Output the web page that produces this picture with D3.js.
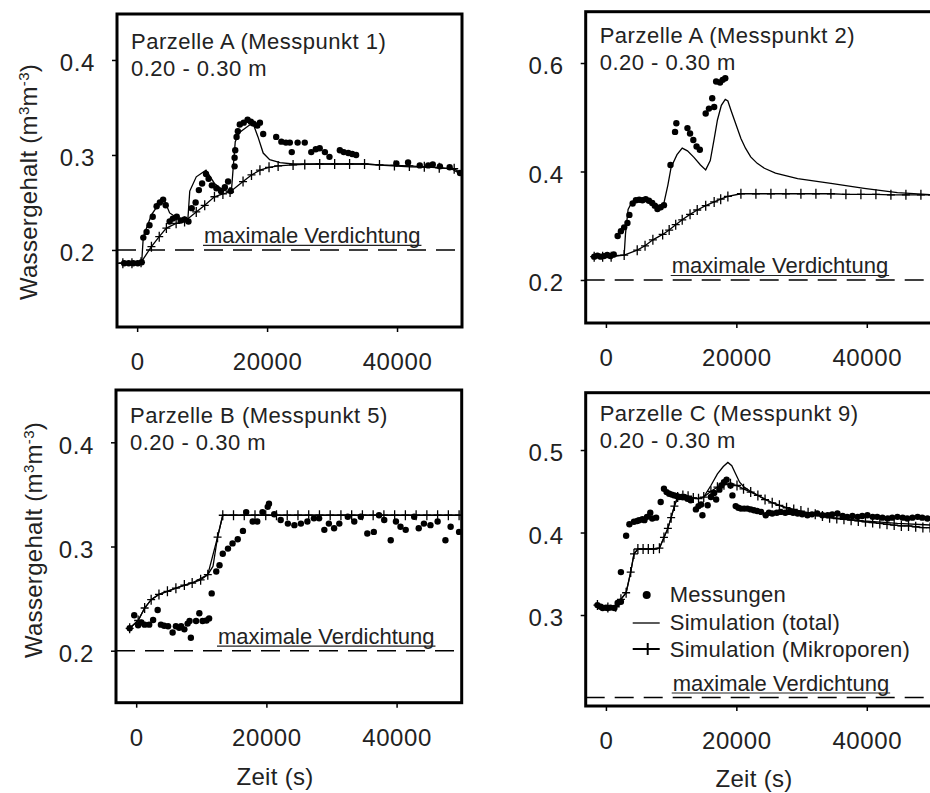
<!DOCTYPE html>
<html>
<head>
<meta charset="utf-8">
<script src="https://cdn.jsdelivr.net/npm/d3@7"></script>
<style>
  body { margin: 0; background: #fff; }
  svg { display: block; }
  text { font-family: Arial, "Liberation Sans", sans-serif; fill: #222; }
  .frame { fill: none; stroke: #000; stroke-width: 3px; }
  .axis path.domain { display: none; }
  .axis .tick line { stroke: #000; stroke-width: 1.5px; }
  .axis .tick text { font-size: 24px; fill: #222; letter-spacing: 0.6px; }
  .sim { fill: none; stroke: #000; stroke-width: 1.3px; }
  .plus { fill: none; stroke: #000; stroke-width: 1.3px; }
  .meas { fill: #000; }
  .maxline { stroke: #000; stroke-width: 1.5px; stroke-dasharray: 19 10; }
  .title { font-size: 22px; letter-spacing: 0.5px; }
  .maxtext { font-size: 22px; }
  .axtitle { font-size: 24px; letter-spacing: 0.3px; }
  .legend text { font-size: 22px; letter-spacing: 0.3px; }
</style>
</head>
<body>
<svg id="chart" width="930" height="793"></svg>
<script>
// time axis ticks (s)
var xTicks = [0, 20000, 40000];
var maxDensity = 0.2;

// ---- Parzelle A (Messpunkt 1) ----
var p1Meas = [[-2000,0.186],[-1300,0.186],[-600,0.186],[100,0.186],[700,0.187],[950,0.213],[1450,0.219],[1900,0.226],[2400,0.235],[3000,0.246],[3500,0.250],[4000,0.253],[4400,0.247],[5000,0.230],[5500,0.233],[6100,0.235],[6700,0.231],[7300,0.232],[7900,0.230],[8400,0.244],[9000,0.250],[9500,0.263],[10000,0.270],[10600,0.280],[11000,0.275],[11500,0.268],[12200,0.265],[12900,0.262],[13500,0.266],[14000,0.272],[14400,0.262],[15000,0.288],[15000,0.297],[15100,0.305],[15300,0.319],[15500,0.325],[15800,0.332],[16400,0.334],[17000,0.337],[17500,0.335],[17900,0.333],[18500,0.331],[18900,0.334],[19400,0.322],[21400,0.319],[22200,0.314],[22900,0.313],[23500,0.313],[23800,0.303],[24700,0.313],[25800,0.313],[26800,0.303],[27500,0.306],[28100,0.307],[28900,0.303],[29600,0.298],[31200,0.305],[31800,0.303],[32500,0.302],[33100,0.301],[33700,0.300],[39900,0.291],[41700,0.292],[43500,0.289],[44800,0.289],[45500,0.290],[46600,0.288],[48100,0.287],[49700,0.281]];
var p1Total = [[-3100,0.186],[700,0.187],[950,0.214],[2200,0.237],[3700,0.252],[4100,0.254],[5000,0.239],[6300,0.233],[7800,0.2315],[8100,0.262],[9100,0.277],[10600,0.284],[11900,0.270],[13200,0.263],[14500,0.261],[14800,0.288],[15100,0.314],[15800,0.324],[17300,0.3315],[17900,0.332],[18600,0.319],[19400,0.302],[20400,0.295],[22000,0.292],[24000,0.2905],[30000,0.2905],[35000,0.2905],[38000,0.289],[42000,0.2875],[46000,0.287],[48500,0.285],[50000,0.279]];
var p1Micro = [[-2200,0.186],[-800,0.186],[600,0.187],[2200,0.2035],[3400,0.214],[4500,0.223],[6000,0.228],[7300,0.230],[9100,0.240],[10400,0.247],[11900,0.256],[13200,0.259],[14300,0.261],[16300,0.272],[17600,0.279],[18900,0.284],[20300,0.287],[21700,0.2885],[24000,0.2895],[25800,0.290],[28100,0.2905],[30400,0.2905],[32700,0.2905],[35000,0.2905],[37300,0.2895],[39600,0.289],[41900,0.2885],[44200,0.2875],[46500,0.2865],[48800,0.2855],[50000,0.280]];

// ---- Parzelle A (Messpunkt 2) ----
var p2Meas = [[-1800,0.243],[-1300,0.245],[-800,0.243],[-300,0.244],[200,0.246],[700,0.244],[1200,0.247],[1800,0.281],[2300,0.290],[2800,0.297],[3300,0.305],[3600,0.320],[4100,0.341],[4600,0.347],[5100,0.348],[5600,0.347],[6100,0.349],[6600,0.346],[7100,0.342],[7500,0.337],[7900,0.331],[8400,0.334],[8900,0.338],[9900,0.412],[10600,0.473],[10800,0.489],[12500,0.480],[12900,0.470],[13400,0.458],[13900,0.446],[14400,0.440],[15300,0.507],[15800,0.516],[16300,0.535],[16600,0.519],[16900,0.566],[17500,0.564],[17900,0.569],[18300,0.572]];
var p2Total = [[-1800,0.243],[2800,0.246],[3000,0.285],[3400,0.330],[4000,0.344],[5500,0.346],[7000,0.344],[8300,0.336],[8900,0.342],[9500,0.375],[10000,0.408],[10900,0.431],[11700,0.443],[12500,0.438],[13500,0.426],[14500,0.412],[15300,0.403],[16000,0.420],[16600,0.460],[17100,0.495],[17700,0.522],[18300,0.533],[18700,0.530],[19200,0.512],[19700,0.495],[20700,0.461],[21400,0.443],[22200,0.427],[23200,0.415],[24300,0.406],[26000,0.397],[29400,0.387],[34500,0.378],[39600,0.369],[44700,0.361],[50000,0.357]];
var p2Micro = [[-1800,0.243],[-500,0.243],[800,0.243],[2800,0.246],[4800,0.255],[6000,0.263],[7200,0.274],[8700,0.284],[9700,0.292],[10700,0.302],[11700,0.311],[12900,0.321],[14000,0.329],[15300,0.337],[16600,0.344],[17600,0.349],[18700,0.354],[20700,0.359],[23000,0.359],[25300,0.359],[27600,0.359],[29900,0.359],[32200,0.359],[34500,0.359],[36800,0.358],[39100,0.358],[41400,0.358],[43700,0.357],[46000,0.357],[48300,0.357],[50000,0.357]];

// ---- Parzelle B (Messpunkt 5) ----
var p3Meas = [[-1000,0.2215],[-300,0.234],[300,0.2245],[800,0.227],[1300,0.225],[2000,0.225],[2600,0.2295],[3300,0.239],[3800,0.225],[4300,0.224],[4900,0.2235],[5600,0.2175],[6100,0.2235],[6600,0.222],[6900,0.2235],[7400,0.2205],[7900,0.226],[8200,0.2285],[8400,0.2125],[9200,0.2285],[9700,0.236],[10200,0.2285],[10800,0.229],[11200,0.231],[11600,0.255],[12300,0.276],[12800,0.282],[13300,0.293],[14100,0.298],[14800,0.303],[15600,0.307],[16400,0.315],[16900,0.333],[17900,0.324],[18600,0.324],[19400,0.333],[20200,0.338],[20400,0.341],[21200,0.331],[22200,0.3255],[23300,0.322],[24300,0.3205],[25300,0.322],[26300,0.324],[27300,0.327],[28100,0.327],[28900,0.316],[29600,0.322],[30400,0.3175],[31200,0.322],[32500,0.3285],[33500,0.324],[34500,0.3285],[35500,0.3125],[36500,0.314],[37300,0.330],[38100,0.3255],[39100,0.306],[39900,0.324],[40600,0.319],[41400,0.316],[42700,0.3285],[43400,0.3175],[44200,0.322],[45200,0.3205],[46300,0.324],[47500,0.306],[48300,0.319],[49600,0.314]];
var p3Total = [[-1000,0.2215],[300,0.229],[1300,0.241],[2300,0.249],[3500,0.254],[6100,0.260],[8600,0.265],[11000,0.273],[11800,0.281],[12500,0.309],[13300,0.330],[50000,0.330]];
var p3Micro = [[-1000,0.2215],[300,0.229],[1300,0.241],[2300,0.249],[3500,0.254],[4800,0.257],[6100,0.260],[7400,0.263],[8600,0.265],[9900,0.268],[11000,0.273],[12500,0.309],[13300,0.330],[14950,0.330],[16600,0.330],[18250,0.330],[19900,0.330],[21550,0.330],[23200,0.330],[24850,0.330],[26500,0.330],[28150,0.330],[29800,0.330],[31450,0.330],[33100,0.330],[34750,0.330],[36400,0.330],[38050,0.330],[39700,0.330],[41350,0.330],[43000,0.330],[44650,0.330],[46300,0.330],[47950,0.330],[49600,0.330]];

// ---- Parzelle C (Messpunkt 9) ----
var p4Meas = [[-1300,0.312],[-800,0.310],[-500,0.3085],[0,0.309],[250,0.3085],[700,0.309],[1300,0.3085],[1800,0.3145],[2300,0.316],[2300,0.352],[3100,0.396],[3600,0.410],[4300,0.413],[4800,0.414],[5100,0.415],[5600,0.416],[5900,0.415],[6300,0.419],[6800,0.424],[7100,0.417],[7700,0.418],[8400,0.437],[8900,0.453],[9300,0.449],[9700,0.447],[10100,0.446],[10500,0.445],[10900,0.444],[11200,0.443],[11600,0.443],[12000,0.443],[12500,0.441],[13000,0.439],[13800,0.428],[14200,0.432],[14600,0.434],[14800,0.421],[15600,0.433],[16100,0.443],[16600,0.448],[16900,0.440],[17400,0.452],[17700,0.457],[18100,0.461],[18500,0.464],[19100,0.457],[19400,0.445],[19900,0.432],[20300,0.430],[20700,0.429],[21200,0.429],[21700,0.429],[22200,0.428],[22700,0.427],[23200,0.426],[23800,0.425],[24500,0.421],[25000,0.424],[25500,0.423],[26200,0.424],[26800,0.425],[27500,0.424],[28100,0.425],[28700,0.424],[29400,0.423],[30100,0.422],[30900,0.421],[31600,0.422],[32400,0.423],[33200,0.421],[34000,0.421],[34700,0.422],[35500,0.423],[36300,0.420],[37000,0.419],[37800,0.420],[38600,0.419],[39300,0.420],[40100,0.421],[40900,0.419],[41600,0.419],[42400,0.418],[43200,0.417],[43900,0.418],[44700,0.419],[45500,0.418],[46200,0.417],[47000,0.418],[47800,0.419],[48500,0.418],[49300,0.417]];
var p4Total = [[-1300,0.312],[300,0.309],[1500,0.310],[2300,0.319],[3100,0.327],[3800,0.352],[4300,0.374],[4900,0.380],[6100,0.380],[7300,0.380],[8200,0.381],[8900,0.394],[9500,0.405],[10000,0.418],[10500,0.432],[11000,0.443],[11800,0.445],[13000,0.443],[14000,0.441],[15000,0.443],[16100,0.457],[17100,0.471],[18000,0.480],[18700,0.485],[19300,0.481],[19900,0.471],[20500,0.461],[21200,0.455],[22000,0.451],[23300,0.445],[25300,0.437],[27300,0.431],[29400,0.426],[34500,0.418],[39600,0.414],[44700,0.411],[50000,0.409]];
var p4Micro = [[-1300,0.312],[300,0.309],[1500,0.310],[2300,0.319],[3100,0.327],[3800,0.352],[4300,0.374],[4900,0.380],[5700,0.380],[6500,0.380],[7300,0.380],[8200,0.381],[8900,0.394],[9500,0.405],[10000,0.418],[10500,0.432],[11000,0.443],[11800,0.445],[12600,0.444],[13400,0.442],[14200,0.441],[15000,0.443],[16100,0.450],[17100,0.455],[18100,0.458],[19100,0.459],[20100,0.457],[21100,0.453],[22200,0.449],[23300,0.445],[24400,0.440],[25500,0.436],[26600,0.433],[27700,0.430],[28800,0.428],[29900,0.426],[31000,0.424],[32100,0.422],[33200,0.420],[34300,0.418],[35400,0.417],[36500,0.416],[37600,0.415],[38700,0.414],[39800,0.413],[40900,0.412],[42000,0.411],[43100,0.410],[44200,0.409],[45300,0.408],[46400,0.408],[47500,0.407],[48600,0.406],[49700,0.406]];

var legendLabels = ["Messungen", "Simulation (total)", "Simulation (Mikroporen)"];

var panels = [
  {title: "Parzelle A (Messpunkt 1)", depth: "0.20 - 0.30 m", left: 117, right: 462, top: 14, bottom: 327,
   yDomain: [0.1189, 0.4484], yTicks: [0.2, 0.3, 0.4], meas: p1Meas, total: p1Total, micro: p1Micro,
   titleDy: 35, maxDx: 87, yLabel: {x: 37, y: 182}},
  {title: "Parzelle A (Messpunkt 2)", depth: "0.20 - 0.30 m", left: 585.7, right: 932, top: 11.7, bottom: 323,
   yDomain: [0.1207, 0.6946], yTicks: [0.2, 0.4, 0.6], meas: p2Meas, total: p2Total, micro: p2Micro,
   titleDy: 31, maxDx: 86},
  {title: "Parzelle B (Messpunkt 5)", depth: "0.20 - 0.30 m", left: 116, right: 461.7, top: 390, bottom: 702.7,
   yDomain: [0.1501, 0.4502], yTicks: [0.2, 0.3, 0.4], meas: p3Meas, total: p3Total, micro: p3Micro,
   titleDy: 33, maxDx: 102, yLabel: {x: 42, y: 540}, xLabel: {x: 275, y: 785}},
  {title: "Parzelle C (Messpunkt 9)", depth: "0.20 - 0.30 m", left: 585.7, right: 932, top: 392.7, bottom: 706,
   yDomain: [0.1897, 0.5695], yTicks: [0.3, 0.4, 0.5], meas: p4Meas, total: p4Total, micro: p4Micro,
   titleDy: 28, maxDx: 87, xLabel: {x: 754, y: 787}, legend: true}
];

var svg = d3.select("#chart");

panels.forEach(function(p, i) {
  var x = d3.scaleLinear().domain([-3100, 50000]).range([p.left, p.right]);
  var y = d3.scaleLinear().domain(p.yDomain).range([p.bottom, p.top]);
  var g = svg.append("g");

  var clipId = "clip" + i;
  svg.append("clipPath").attr("id", clipId).append("rect")
    .attr("x", p.left).attr("y", p.top)
    .attr("width", p.right - p.left).attr("height", p.bottom - p.top);

  g.append("g").attr("class", "axis")
    .attr("transform", "translate(" + p.left + ",0)")
    .call(d3.axisLeft(y).tickValues(p.yTicks).tickFormat(d3.format(".1f"))
      .tickSizeInner(5).tickSizeOuter(0).tickPadding(17))
    .selectAll("text").attr("dy", "0.45em");

  g.append("g").attr("class", "axis")
    .attr("transform", "translate(0," + p.bottom + ")")
    .call(d3.axisBottom(x).tickValues(xTicks).tickFormat(d3.format("d"))
      .tickSizeInner(5).tickSizeOuter(0).tickPadding(21));

  var plot = g.append("g").attr("clip-path", "url(#" + clipId + ")");

  // maximale Verdichtung
  var yMax = y(maxDensity);
  plot.append("line").attr("class", "maxline")
    .attr("x1", p.left).attr("x2", p.right).attr("y1", yMax).attr("y2", yMax);
  var mt = plot.append("text").attr("class", "maxtext")
    .attr("x", p.left + p.maxDx).attr("y", yMax - 7)
    .text("maximale Verdichtung");
  var mw = mt.node().getComputedTextLength();
  plot.append("line")
    .attr("x1", p.left + p.maxDx - 1).attr("x2", p.left + p.maxDx + mw + 1)
    .attr("y1", yMax - 4.5).attr("y2", yMax - 4.5)
    .attr("stroke", "#222").attr("stroke-width", 1.2);

  var line = d3.line().x(function(d) { return x(d[0]); }).y(function(d) { return y(d[1]); });

  plot.append("path").datum(p.total).attr("class", "sim").attr("d", line);
  plot.append("path").datum(p.micro).attr("class", "sim").attr("d", line);
  plot.selectAll(".plus").data(p.micro).enter().append("path")
    .attr("class", "plus")
    .attr("transform", function(d) { return "translate(" + x(d[0]) + "," + y(d[1]) + ")"; })
    .attr("d", "M-4,0H4M0,-5V5");

  plot.selectAll(".meas").data(p.meas).enter().append("circle")
    .attr("class", "meas")
    .attr("cx", function(d) { return x(d[0]); })
    .attr("cy", function(d) { return y(d[1]); })
    .attr("r", 3.2);

  g.append("rect").attr("class", "frame")
    .attr("x", p.left).attr("y", p.top)
    .attr("width", p.right - p.left).attr("height", p.bottom - p.top);

  g.append("text").attr("class", "title")
    .attr("x", p.left + 14).attr("y", p.top + p.titleDy).text(p.title);
  g.append("text").attr("class", "title")
    .attr("x", p.left + 14).attr("y", p.top + p.titleDy + 27).text(p.depth);

  if (p.yLabel) {
    var yl = g.append("text").attr("class", "axtitle")
      .attr("text-anchor", "middle")
      .attr("transform", "translate(" + p.yLabel.x + "," + p.yLabel.y + ") rotate(-90)");
    yl.append("tspan").text("Wassergehalt (m");
    yl.append("tspan").attr("baseline-shift", "super").attr("font-size", "15px").text("3");
    yl.append("tspan").text("m");
    yl.append("tspan").attr("baseline-shift", "super").attr("font-size", "15px").text("-3");
    yl.append("tspan").text(")");
  }
  if (p.xLabel) {
    g.append("text").attr("class", "axtitle").attr("text-anchor", "middle")
      .attr("x", p.xLabel.x).attr("y", p.xLabel.y).text("Zeit (s)");
  }
  if (p.legend) {
    var lg = g.append("g").attr("class", "legend");
    var lx = p.left + 84;
    var rows = [602, 630, 657];
    lg.append("circle").attr("cx", p.left + 61).attr("cy", rows[0] - 7).attr("r", 4).attr("fill", "#000");
    lg.append("line").attr("x1", p.left + 47).attr("x2", p.left + 74)
      .attr("y1", rows[1] - 7).attr("y2", rows[1] - 7).attr("stroke", "#000").attr("stroke-width", 1.3);
    lg.append("line").attr("x1", p.left + 47).attr("x2", p.left + 74)
      .attr("y1", rows[2] - 8).attr("y2", rows[2] - 8).attr("stroke", "#000").attr("stroke-width", 2);
    lg.append("line").attr("x1", p.left + 62).attr("x2", p.left + 62)
      .attr("y1", rows[2] - 14).attr("y2", rows[2] - 2).attr("stroke", "#000").attr("stroke-width", 2);
    lg.selectAll(".lt").data(legendLabels).enter().append("text")
      .attr("x", lx).attr("y", function(d, k) { return rows[k]; }).text(function(d) { return d; });
  }
});
</script>
</body>
</html>
